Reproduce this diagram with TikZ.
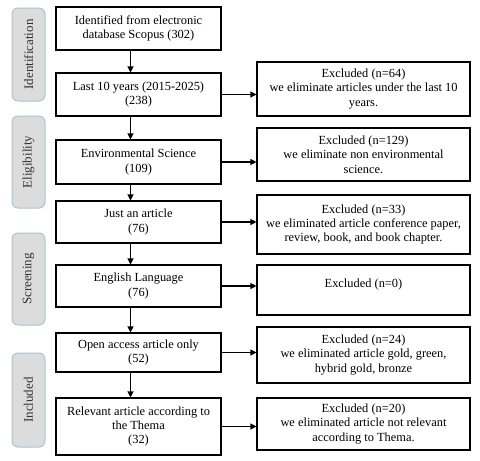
\documentclass[tikz,border=0pt]{standalone}
\usepackage{fontspec}
\setmainfont{Liberation Serif}
\usepackage{tikz}
\usetikzlibrary{arrows.meta, positioning, calc}

\definecolor{stagefill}{HTML}{DCDCDC}
\definecolor{stageline}{HTML}{A9C4D4}
\definecolor{stagetext}{HTML}{333333}

\begin{document}
\begin{tikzpicture}[
    x=1pt, y=-1pt,
    block/.style={rectangle, draw=black, line width=1.1pt, minimum width=165pt, align=center, inner sep=2pt, font=\fontsize{12.4}{14.3}\selectfont},
    excl/.style={block, minimum width=213pt},
    stage/.style={rectangle, rounded corners=6pt, draw=stageline, line width=1pt, fill=stagefill, rotate=90, minimum height=33pt, text=stagetext, font=\fontsize{13}{15}\selectfont},
    arrow/.style={-{Triangle[length=6pt, width=6pt]}, line width=1.1pt}
]
\useasboundingbox (0,0) rectangle (480,461);

% stages on the left
\node[stage, minimum width=93pt] (sid) at (28.5,54.5) {Identification};
\node[stage, minimum width=92pt] (sel) at (28.5,162) {Eligibility};
\node[stage, minimum width=92pt] (ssc) at (28.5,279) {Screening};
\node[stage, minimum width=94pt] (sin) at (28.5,400) {Included};

% main flow
\node[block, minimum height=43pt] (l1) at (138.5,28.5) {Identified from electronic\\database Scopus (302)};
\node[block, minimum height=43pt] (l2) at (138.5,94.5) {Last 10 years (2015-2025)\\(238)};
\node[block, minimum height=44pt] (l3) at (138.5,162) {Environmental Science\\(109)};
\node[block, minimum height=42pt] (l4) at (138.5,222) {Just an article\\(76)};
\node[block, minimum height=42pt] (l5) at (138.5,286) {English Language\\(76)};
\node[block, minimum height=39pt] (l6) at (138.5,352.5) {Open access article only\\(52)};
\node[block, minimum height=57pt] (l7) at (138.5,426.5) {Relevant article according to\\the Thema\\(32)};

% excluded records
\node[excl, minimum height=54pt] (r1) at (363.5,89) {Excluded (n=64)\\we eliminate articles under the last 10\\years.};
\node[excl, minimum height=53pt] (r2) at (363.5,154.5) {Excluded (n=129)\\we eliminate non environmental\\science.};
\node[excl, minimum height=59pt] (r3) at (363.5,224.5) {Excluded (n=33)\\we eliminated article conference paper,\\review, book, and book chapter.};
\node[excl, minimum height=50pt] (r4) at (363.5,290) {Excluded (n=0)\\~};
\node[excl, minimum height=56pt] (r5) at (363.5,355) {Excluded (n=24)\\we eliminated article gold, green,\\hybrid gold, bronze};
\node[excl, minimum height=52pt] (r6) at (363.5,424) {Excluded (n=20)\\we eliminated article not relevant\\according to Thema.};

% arrows down
\foreach \a/\b in {l1/l2, l2/l3, l3/l4, l4/l5, l5/l6, l6/l7}
    \draw[arrow] ([xshift=-8pt]\a.south) -- ([xshift=-8pt]\b.north);

% arrows right
\foreach \a/\b in {l2/r1, l3/r2, l4/r3, l5/r4, l6/r5, l7/r6}
    \draw[arrow] (\a.east) -- (\a.east -| \b.west);
\end{tikzpicture}
\end{document}
